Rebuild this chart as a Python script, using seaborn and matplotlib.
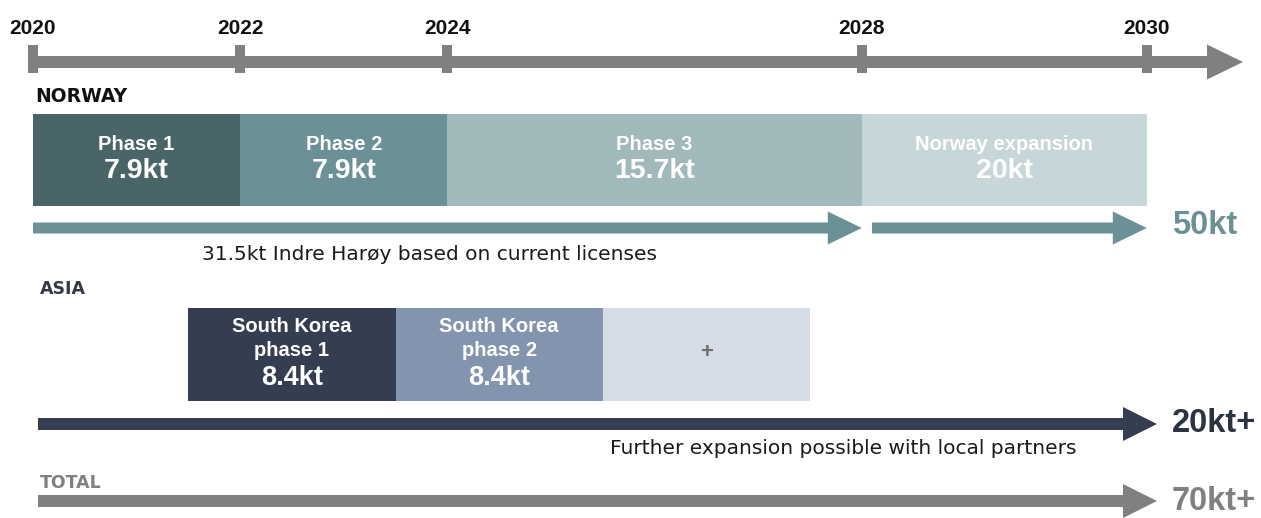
import numpy as np
import matplotlib
matplotlib.use("Agg")
import matplotlib.pyplot as plt
from matplotlib.patches import FancyArrowPatch
import seaborn as sns

# ---------------- data ----------------
years = [2020, 2022, 2024, 2028, 2030]

norway_phases = ["Phase 1", "Phase 2", "Phase 3", "Norway expansion"]
norway_kt = [7.9, 7.9, 15.7, 20]
norway_start = [2020, 2022, 2024, 2028]
norway_end = [2022, 2024, 2028, 2030]

asia_phases = ["South Korea\nphase 1", "South Korea\nphase 2", "+"]
asia_kt = [8.4, 8.4, None]
asia_start = [2021.5, 2023.5, 2025.5]
asia_end = [2023.5, 2025.5, 2027.5]

norway_licensed_kt = 31.5
norway_total = "50kt"
asia_total = "20kt+"
grand_total = "70kt+"

# ---------------- style ----------------
sns.set_theme(style="white")
plt.rcParams["font.family"] = ["DejaVu Sans"]

GREY = "#808080"
N_COLORS = ["#4a6568", "#6b9196", "#a2b9bc", "#c7d7d9"]
A_COLORS = ["#343e50", "#8395ae", "#d6dce6"]
N_ARROW = "#6b9196"
A_ARROW = "#343e50"
BOLD = "Liberation Sans"

fig = plt.figure(figsize=(12.61, 5.18), dpi=100)
ax = fig.add_axes([0, 0, 1, 1])

PX = 103.6        # pixels per year up to 2028
STRETCH = 1.3755  # later years drawn wider


def fwd(x):
    x = np.asarray(x, dtype=float)
    return np.where(x <= 2028, x - 2020, 8 + (x - 2028) * STRETCH)


def inv(u):
    u = np.asarray(u, dtype=float)
    return np.where(u <= 8, u + 2020, 2028 + (u - 8) / STRETCH)


ax.set_xscale("function", functions=(fwd, inv))
ax.set_xlim(float(inv(-33 / PX)), float(inv(1228 / PX)))
ax.set_ylim(518, 0)
ax.axis("off")


def px2yr(p):
    return float(inv((p - 33) / PX))


def arrow(x0, x1, y, color, shaft=12, head_len=34, head_w=34):
    k = 0.72  # px -> pt
    style = (f"simple,head_length={head_len * k},head_width={head_w * k},"
             f"tail_width={shaft * k}")
    a = FancyArrowPatch((x0, y), (x1, y), arrowstyle=style, mutation_scale=1,
                        color=color, lw=0, shrinkA=0, shrinkB=0)
    ax.add_patch(a)


# ---------------- timeline ----------------
arrow(px2yr(28), px2yr(1243), 62, GREY, shaft=12, head_len=36, head_w=35)
ax.vlines(years, 45, 73, color=GREY, lw=7.2)
for yr in years:
    ax.text(yr, 28, str(yr), ha="center", va="center", fontsize=15,
            fontweight="bold", family=BOLD, color="#111111")

# ---------------- Norway ----------------
ax.text(px2yr(35), 96, "NORWAY", ha="left", va="center", fontsize=13.5,
        fontweight="bold", color="#111111")
widths = [e - s for s, e in zip(norway_start, norway_end)]
ax.barh(160, widths, left=norway_start, height=92, color=N_COLORS, lw=0)
for s, e, name, v in zip(norway_start, norway_end, norway_phases, norway_kt):
    xc = float(inv((fwd(s) + fwd(e)) / 2))
    ax.text(xc, 144, name, ha="center", va="center", fontsize=14.5,
            fontweight="bold", family=BOLD, color="white")
    ax.text(xc, 171, f"{v:g}kt", ha="center", va="center", fontsize=20.5,
            fontweight="bold", family=BOLD, color="white")

arrow(norway_start[0], norway_start[-1], 228, N_ARROW, shaft=11, head_len=34, head_w=33)
arrow(px2yr(872), norway_end[-1], 228, N_ARROW, shaft=11, head_len=34, head_w=33)
ax.text(px2yr(1172), 226, norway_total, ha="left", va="center", fontsize=23.5,
        fontweight="bold", family=BOLD, color=N_ARROW)
ax.text(px2yr(429), 254,
        f"{norway_licensed_kt:g}kt Indre Harøy based on current licenses",
        ha="center", va="center", fontsize=14.5, color="#1a1a1a")

# ---------------- Asia ----------------
ax.text(px2yr(40), 289, "ASIA", ha="left", va="center", fontsize=12.5,
        fontweight="bold", color="#333a46")
widths = [e - s for s, e in zip(asia_start, asia_end)]
ax.barh(354.5, widths, left=asia_start, height=93, color=A_COLORS, lw=0)
for s, e, name, v in zip(asia_start, asia_end, asia_phases, asia_kt):
    xc = (s + e) / 2
    if v is None:
        ax.text(xc, 352, name, ha="center", va="center", fontsize=16,
                fontweight="bold", family=BOLD, color="#6e6e6e")
        continue
    l1, l2 = name.split("\n")
    ax.text(xc, 327, l1, ha="center", va="center", fontsize=14.5,
            fontweight="bold", family=BOLD, color="white")
    ax.text(xc, 350, l2, ha="center", va="center", fontsize=14.5,
            fontweight="bold", family=BOLD, color="white")
    ax.text(xc, 378, f"{v:g}kt", ha="center", va="center", fontsize=19.5,
            fontweight="bold", family=BOLD, color="white")

arrow(px2yr(38), px2yr(1157), 424, A_ARROW, shaft=12, head_len=34, head_w=34)
ax.text(px2yr(1172), 424, asia_total, ha="left", va="center", fontsize=23.5,
        fontweight="bold", family=BOLD, color="#2b3442")
ax.text(px2yr(843), 449, "Further expansion possible with local partners",
        ha="center", va="center", fontsize=14.5, color="#1a1a1a")

# ---------------- Total ----------------
ax.text(px2yr(40), 483, "TOTAL", ha="left", va="center", fontsize=12.5,
        fontweight="bold", color=GREY)
arrow(px2yr(38), px2yr(1157), 501, GREY, shaft=12, head_len=34, head_w=34)
ax.text(px2yr(1172), 501, grand_total, ha="left", va="center", fontsize=23.5,
        fontweight="bold", family=BOLD, color=GREY)

fig.savefig("out.png", dpi=100)
